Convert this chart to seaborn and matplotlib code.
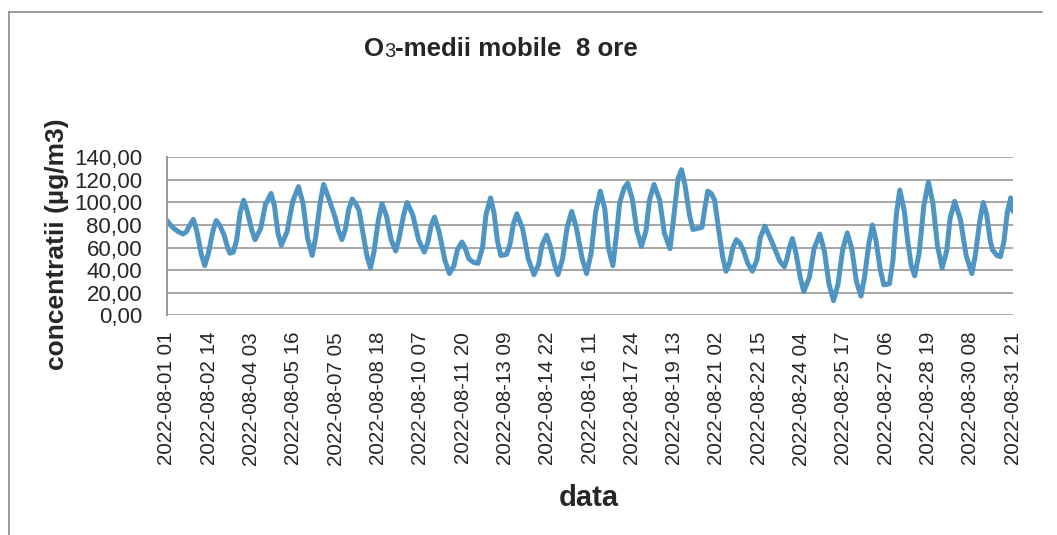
import matplotlib
matplotlib.use("Agg")
import matplotlib.pyplot as plt
import seaborn as sns
import pandas as pd
from matplotlib.lines import Line2D

# hours elapsed since 2022-08-01 01 and O3 8h moving average
hours = [0, 3, 6, 10, 14, 17, 20, 23, 26, 30, 33, 36, 40, 43, 46, 50, 53, 55, 58,
         61, 64, 67, 70, 74, 77, 82, 86, 91, 94, 97, 100, 105, 110, 115, 119, 123,
         127, 130, 134, 137, 141, 147, 150, 153, 156, 159, 162, 165, 168, 171, 175,
         178, 181, 185, 188, 192, 196, 200, 203, 207, 210, 215, 220, 225, 228, 231,
         234, 238, 243, 247, 251, 254, 258, 261, 264, 268, 272, 276, 279, 283, 286,
         289, 292, 297, 300, 303, 306, 311, 316, 321, 325, 328, 332, 335, 339, 342,
         346, 350, 354, 358, 363, 367, 371, 375, 379, 383, 386, 390, 393, 396, 400,
         403, 407, 411, 415, 419, 422, 426, 431, 435, 440, 443, 447, 450, 453, 457,
         460, 464, 468, 470, 473, 476, 479, 482, 486, 489, 492, 495, 498, 501, 504,
         508, 512, 516, 519, 523, 527, 532, 536, 540, 542, 545, 547, 550, 554, 557,
         562, 566, 571, 575, 579, 583, 587, 591, 595, 599, 603, 607, 610, 614, 617,
         620, 624, 627, 632, 635, 638, 641, 645, 648, 651, 654, 658, 662, 666, 670,
         674, 678, 682, 685, 689, 694, 699, 704, 707, 711, 714, 717, 720, 722, 726,
         729, 732, 735, 738, 740]
o3 = [84, 80, 77, 74, 72, 74, 80, 85, 75, 54, 44, 54, 74, 84, 80, 71, 60, 55, 56,
      67, 91, 102, 93, 76, 67, 77, 98, 108, 97, 73, 62, 74, 101, 114, 99, 68,
      53, 69, 100, 116, 105, 87, 75, 67, 76, 94, 103, 99, 93, 75, 52,
      42, 56, 85, 99, 88, 67, 57, 68, 89, 100, 89, 67, 56, 64, 79,
      87, 74, 49, 37, 44, 58, 65, 59, 50, 47, 46, 60, 89, 104, 91,
      66, 53, 54, 63, 81, 90, 77, 50, 36, 45, 62, 71, 62, 45, 36,
      50, 78, 92, 78, 51, 37, 55, 92, 110, 94, 60, 44, 70, 100, 113,
      117, 103, 75, 61, 75, 102, 116, 102, 73, 59, 85, 121, 129, 116, 89,
      76, 77, 78, 92, 110, 108, 102, 80, 52, 39, 46, 60, 67, 64, 58,
      46, 39, 49, 69, 79, 70, 58, 48, 43, 49, 62, 68, 56, 33, 21,
      34, 59, 72, 57, 28, 13, 28, 58, 73, 59, 30, 17, 33, 64, 80,
      67, 40, 27, 28, 49, 90, 111, 92, 65, 44, 35, 56, 97, 118, 99,
      61, 42, 57, 86, 101, 85, 53, 37, 53, 84, 100, 89, 67, 58, 53,
      52, 65, 91, 104, 92]

tick_labels = ["2022-08-01 01", "2022-08-02 14", "2022-08-04 03", "2022-08-05 16",
               "2022-08-07 05", "2022-08-08 18", "2022-08-10 07", "2022-08-11 20",
               "2022-08-13 09", "2022-08-14 22", "2022-08-16 11", "2022-08-17 24",
               "2022-08-19 13", "2022-08-21 02", "2022-08-22 15", "2022-08-24 04",
               "2022-08-25 17", "2022-08-27 06", "2022-08-28 19", "2022-08-30 08",
               "2022-08-31 21"]
label_step = 37
y_ticks = [0, 20, 40, 60, 80, 100, 120, 140]

title_parts = ["O", "3", "-medii mobile  8 ore"]
x_title = "data"
y_title = "concentratii (\u00b5g/m3)"

sns.set_style("white")
plt.rcParams['font.family'] = ['Liberation Sans', 'DejaVu Sans']

df = pd.DataFrame({"h": hours, "v": o3})

W, H = 1057, 535
fig = plt.figure(figsize=(W / 100, H / 100), dpi=100)
ax = fig.add_axes([167 / W, 1 - 315.3 / H, (1013 - 167) / W, (315.3 - 157.3) / H])

sns.lineplot(data=df, x="h", y="v", ax=ax, color="#4F95C3", linewidth=3.6)
for ln in ax.get_lines():
    ln.set_solid_joinstyle("round")
    ln.set_solid_capstyle("round")

ax.set_xlim(0, label_step * (len(tick_labels) - 1))
ax.set_ylim(0, 140)
ax.set_yticks(y_ticks)
ax.set_yticklabels([f"{v:.2f}".replace(".", ",") for v in y_ticks], fontsize=16)
ax.set_xticks([i * label_step for i in range(len(tick_labels))])
ax.set_xticklabels(tick_labels, rotation=90, fontsize=14.8)
ax.tick_params(axis="x", length=0, pad=12)
ax.tick_params(axis="y", length=6, width=1.2, color="#9a9a9a", pad=12, direction="out")
ax.yaxis.grid(True, color="#a6a6a6", linewidth=1.4)
ax.xaxis.grid(False)
ax.set_axisbelow(True)
for s in ["top", "right", "bottom"]:
    ax.spines[s].set_visible(False)
ax.spines["left"].set_color("#9a9a9a")
ax.spines["left"].set_linewidth(1.4)
ax.set_xlabel("")
ax.set_ylabel("")

# title made of pieces: "O", smaller "3", rest
fig.canvas.draw()
rend = fig.canvas.get_renderer()
tfs = 18.6
base_y = 1 - 56 / H
t1 = fig.text(0, base_y, title_parts[0], fontsize=tfs, fontweight="bold", va="baseline")
t2 = fig.text(0, base_y - 1 / H, title_parts[1], fontsize=tfs * 0.78, va="baseline")
t3 = fig.text(0, base_y, title_parts[2], fontsize=tfs, fontweight="bold", va="baseline")
ws = [t.get_window_extent(rend).width for t in (t1, t2, t3)]
x0 = 501 - sum(ws) / 2
t1.set_x(x0 / W)
t2.set_x((x0 + ws[0]) / W)
t3.set_x((x0 + ws[0] + ws[1]) / W)

fig.text(589 / W, 1 - 498 / H, x_title, ha="center", va="center",
         fontsize=21, fontweight="bold")
fig.text(57 / W, 1 - 244 / H, y_title, ha="center", va="center", rotation=90,
         fontsize=19, fontweight="bold")

# chart area border (top and left)
fig.add_artist(Line2D([9 / W, 1042 / W], [1 - 11.7 / H, 1 - 11.7 / H],
                      color="#8c8c8c", linewidth=1.2, transform=fig.transFigure))
fig.add_artist(Line2D([9 / W, 9 / W], [1 - 11.7 / H, 0], color="#8c8c8c",
                      linewidth=1.2, transform=fig.transFigure))

fig.savefig("out.png", dpi=100)
